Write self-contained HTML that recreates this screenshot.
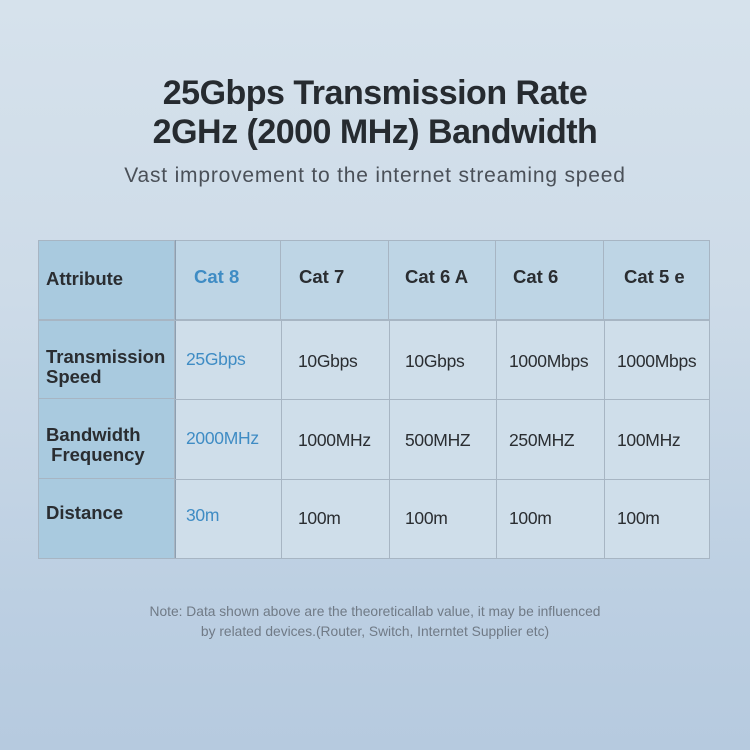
<!DOCTYPE html>
<html><head><meta charset="utf-8"><style>
body{margin:0;width:750px;height:750px;overflow:hidden;background:linear-gradient(180deg,#d6e2ec 0%,#cddbe8 40%,#bccfe2 80%,#b6cadf 100%);font-family:"Liberation Sans",sans-serif;position:relative}
.t{position:absolute;left:0;width:750px;text-align:center;color:#262b30;font-weight:bold;letter-spacing:-0.5px}
.c{position:absolute;font-size:17.5px;color:#2a2d31;letter-spacing:-0.3px}
.b{font-weight:bold;font-size:18.5px;line-height:20px;letter-spacing:0}
.blue{color:#3f8cc4}
.cell{position:absolute;box-sizing:border-box;border-right:1px solid #a7b5c3;border-bottom:1px solid #a7b5c3}
</style></head><body>
<div class="t" style="top:74px;font-size:34px">25Gbps Transmission Rate</div>
<div class="t" style="top:113px;font-size:34px">2GHz (2000 MHz) Bandwidth</div>
<div class="t" style="top:164px;font-size:21px;font-weight:normal;color:#4a5058;letter-spacing:0.8px">Vast improvement to the internet streaming speed</div>

<div style="position:absolute;left:38px;top:240px;width:672px;height:319px;border:1px solid #a7b5c3;border-right:none;border-bottom:none;box-sizing:border-box"></div>
<div class="cell" style="left:38px;top:240px;width:137px;height:80px;background:#a9cadf;border-left:1px solid #a7b5c3;border-top:1px solid #a7b5c3"></div>
<div class="cell" style="left:175px;top:240px;width:106px;height:80px;background:#bed5e5;border-top:1px solid #a7b5c3"></div>
<div class="cell" style="left:281px;top:240px;width:108px;height:80px;background:#bed5e5;border-top:1px solid #a7b5c3"></div>
<div class="cell" style="left:389px;top:240px;width:107px;height:80px;background:#bed5e5;border-top:1px solid #a7b5c3"></div>
<div class="cell" style="left:496px;top:240px;width:108px;height:80px;background:#bed5e5;border-top:1px solid #a7b5c3"></div>
<div class="cell" style="left:604px;top:240px;width:106px;height:80px;background:#bed5e5;border-top:1px solid #a7b5c3"></div>
<div class="cell" style="left:38px;top:320px;width:137px;height:79px;background:#a9cadf;border-left:1px solid #a7b5c3"></div>
<div class="cell" style="left:38px;top:399px;width:137px;height:80px;background:#a9cadf;border-left:1px solid #a7b5c3"></div>
<div class="cell" style="left:38px;top:479px;width:137px;height:80px;background:#a9cadf;border-left:1px solid #a7b5c3"></div>
<div style="position:absolute;left:175px;top:320px;width:535px;height:239px;background:#cfdeea"></div>
<svg style="position:absolute;left:0;top:0" width="750" height="750">
<g stroke="#a7b5c3" stroke-width="1">
<line x1="175.5" y1="240" x2="175.5" y2="559" stroke="#8d9fb0"/>
<line x1="281.5" y1="320" x2="281.5" y2="559"/><line x1="389.5" y1="320" x2="389.5" y2="559"/>
<line x1="496.5" y1="320" x2="496.5" y2="559"/><line x1="604.5" y1="320" x2="604.5" y2="559"/>
<line x1="709.5" y1="240" x2="709.5" y2="559"/>
<line x1="175" y1="399.5" x2="710" y2="399.5"/><line x1="175" y1="479.5" x2="710" y2="479.5"/>
<line x1="38" y1="558.5" x2="710" y2="558.5"/><line x1="38" y1="320.5" x2="710" y2="320.5"/>
</g></svg>

<div class="c b" style="left:46px;top:269px">Attribute</div>
<div class="c b blue" style="left:194px;top:267px">Cat 8</div>
<div class="c b" style="left:299px;top:267px">Cat 7</div>
<div class="c b" style="left:405px;top:267px">Cat 6 A</div>
<div class="c b" style="left:513px;top:267px">Cat 6</div>
<div class="c b" style="left:624px;top:267px">Cat 5 e</div>

<div class="c b" style="left:46px;top:347px">Transmission<br>Speed</div>
<div class="c b" style="left:46px;top:425px">Bandwidth<br>&nbsp;Frequency</div>
<div class="c b" style="left:46px;top:503px">Distance</div>

<div class="c blue" style="left:186px;top:349px">25Gbps</div>
<div class="c" style="left:298px;top:351px">10Gbps</div>
<div class="c" style="left:405px;top:351px">10Gbps</div>
<div class="c" style="left:509px;top:351px">1000Mbps</div>
<div class="c" style="left:617px;top:351px">1000Mbps</div>

<div class="c blue" style="left:186px;top:428px">2000MHz</div>
<div class="c" style="left:298px;top:430px">1000MHz</div>
<div class="c" style="left:405px;top:430px">500MHZ</div>
<div class="c" style="left:509px;top:430px">250MHZ</div>
<div class="c" style="left:617px;top:430px">100MHz</div>

<div class="c blue" style="left:186px;top:505px">30m</div>
<div class="c" style="left:298px;top:508px">100m</div>
<div class="c" style="left:405px;top:508px">100m</div>
<div class="c" style="left:509px;top:508px">100m</div>
<div class="c" style="left:617px;top:508px">100m</div>

<div style="position:absolute;left:0;width:750px;top:602px;text-align:center;font-size:13.8px;line-height:20px;color:#707a86">Note: Data shown above are the theoreticallab value, it may be influenced<br>by related devices.(Router, Switch, Interntet Supplier etc)</div>
</body></html>
